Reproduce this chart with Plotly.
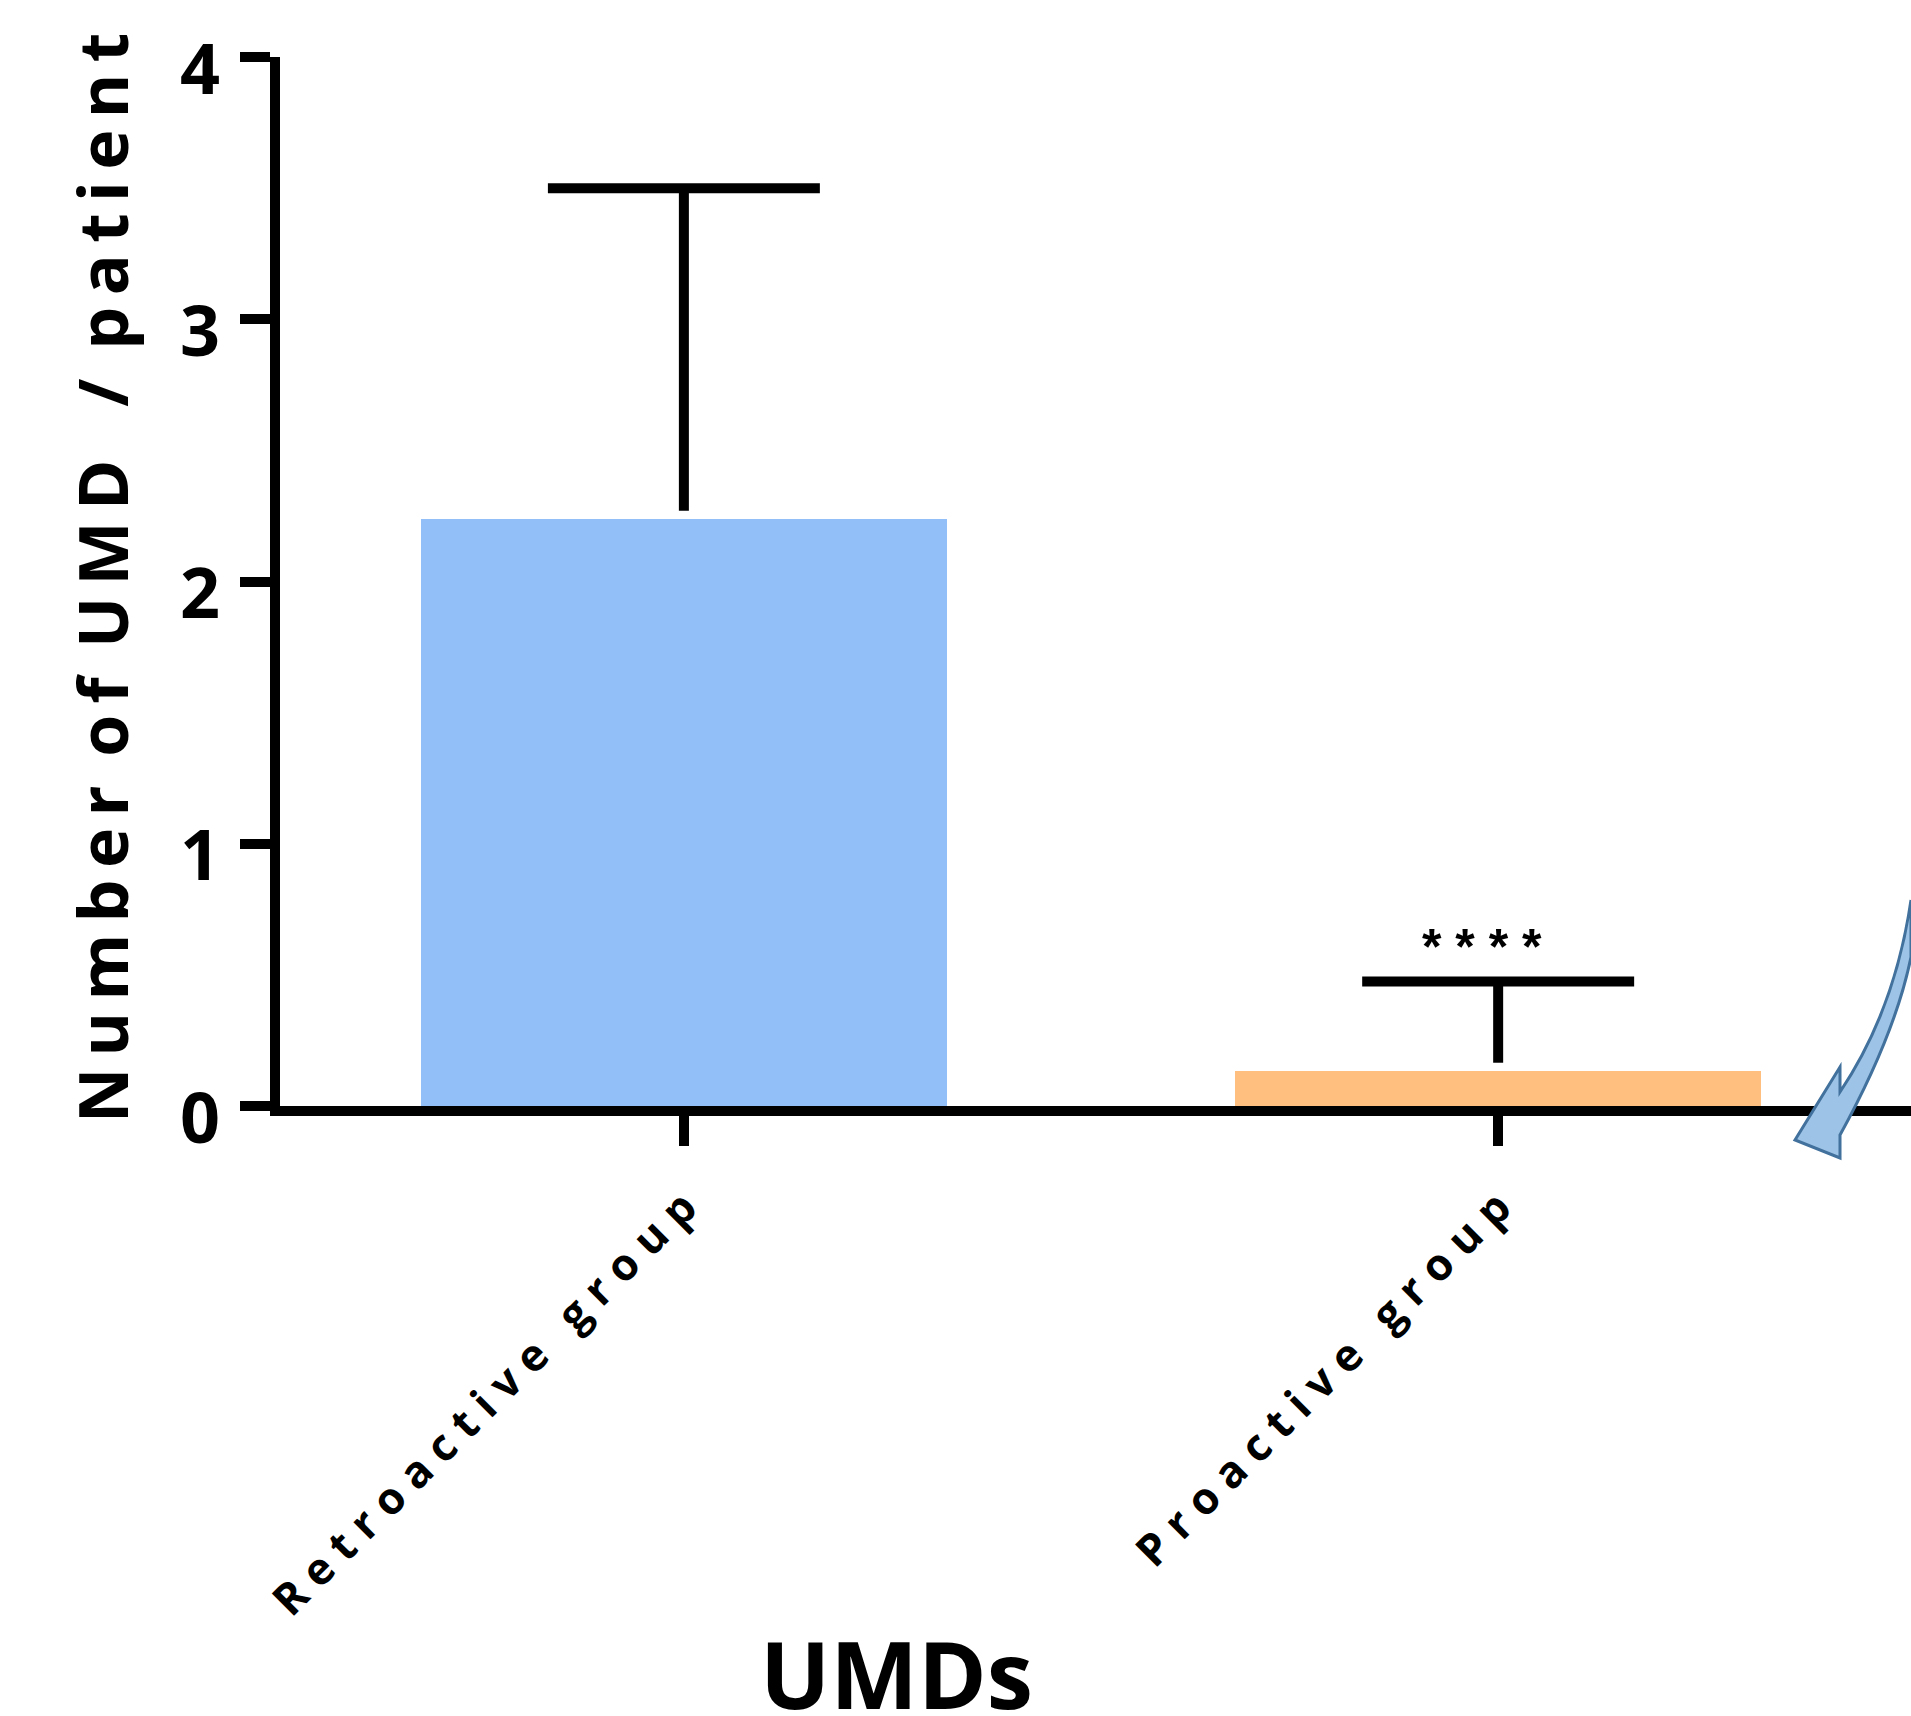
import plotly.graph_objects as go

# ---- data ----
categories = ["Retroactive group", "Proactive group"]
means = [2.24, 0.135]
sd_upper = [1.26, 0.34]
bar_colors = ["#93BFF8", "#FFC07F"]
y_ticks = [0, 1, 2, 3, 4]
significance = ["", "****"]

W, H = 1911, 1716
ML, MR, MT = 280, 0, 57
PLOT_BOTTOM = 1106
MB = H - PLOT_BOTTOM
PW, PH = W - ML - MR, PLOT_BOTTOM - MT


def px(x):  # window pixel -> paper
    return (x - ML) / PW


def py(y):
    return (PLOT_BOTTOM - y) / PH


def spaced(s, sep=" ", wsep="   "):
    return wsep.join(sep.join(list(w)) for w in s.split(" "))


xpos = list(range(len(categories)))
fig = go.Figure()
fig.add_trace(go.Bar(
    x=xpos, y=means, width=0.646,
    marker=dict(color=bar_colors, line=dict(width=0)),
    showlegend=False, hoverinfo="skip",
))

# error bars (upper only) drawn through data scales
cap_half = 0.167
gap = 0.03
ex, ey = [], []
for xi, m, e in zip(xpos, means, sd_upper):
    ex += [xi, xi, None, xi - cap_half, xi + cap_half, None]
    ey += [m + gap, m + e, None, m + e, m + e, None]
fig.add_trace(go.Scatter(x=ex, y=ey, mode="lines",
                         line=dict(color="black", width=10),
                         showlegend=False, hoverinfo="skip"))

# significance stars
for xi, m, e, s in zip(xpos, means, sd_upper, significance):
    if s:
        fig.add_annotation(x=xi, y=m + e, xref="x", yref="y",
                           text=" ".join(list(s)), showarrow=False,
                           yanchor="middle", yshift=34, xshift=-16,
                           font=dict(family="Liberation Sans", size=50, color="black",
                                     weight="bold"))

fig.update_xaxes(
    range=[-0.496, 1.507],
    tickvals=xpos,
    ticktext=[spaced(c, " ", "   ") for c in categories],
    tickangle=-45,
    ticks="outside", ticklen=30, tickwidth=10, tickcolor="black",
    showline=True, linewidth=10, linecolor="black",
    showgrid=False, zeroline=False,
    ticklabelstandoff=18,
    tickfont=dict(family="Open Sans", size=44, color="black", weight="bold"),
)
fig.update_yaxes(
    range=[0, 4],
    tickvals=y_ticks,
    ticks="outside", ticklen=30, tickwidth=10, tickcolor="black",
    showline=True, linewidth=10, linecolor="black",
    showgrid=False, zeroline=False,
    ticklabelstandoff=6,
    ticklabelshift=12,
    ticklabeloverflow="allow",
    tickfont=dict(family="Open Sans", size=70, color="black", weight="bold"),
)

# y-axis title
fig.add_annotation(
    x=px(101), y=py(578), xref="paper", yref="paper",
    text=(spaced("Number of UMD", "\u2009", " \u2009") + "   /\u2009 "
          + spaced("patient", "\u2006")),
    textangle=-90, showarrow=False, xanchor="center", yanchor="middle",
    font=dict(family="Open Sans", size=68, color="black", weight="bold"),
)
# x-axis title
fig.add_annotation(
    x=px(896), y=py(1673), xref="paper", yref="paper",
    text="UMDs", showarrow=False, xanchor="center", yanchor="middle",
    font=dict(family="Open Sans", size=93, color="black", weight="bold"),
)

# curved arrow decoration (window pixels -> paper)
pts = {
    "a": (1911, 900), "c1": (1895, 1010), "b": (1840, 1092),
    "n": (1840, 1067), "t": (1795, 1140), "bb": (1840, 1158),
    "i": (1840, 1135), "c2": (1895, 1035), "e": (1911, 957),
}
P = {k: (px(v[0]), py(v[1])) for k, v in pts.items()}
path = (f"M {P['a'][0]},{P['a'][1]} Q {P['c1'][0]},{P['c1'][1]} {P['b'][0]},{P['b'][1]} "
        f"L {P['n'][0]},{P['n'][1]} L {P['t'][0]},{P['t'][1]} L {P['bb'][0]},{P['bb'][1]} "
        f"L {P['i'][0]},{P['i'][1]} Q {P['c2'][0]},{P['c2'][1]} {P['e'][0]},{P['e'][1]} Z")
fig.add_shape(type="path", path=path, xref="paper", yref="paper",
              fillcolor="#9DC3E6", line=dict(color="#41719C", width=3), layer="above")

fig.update_layout(
    width=W, height=H,
    margin=dict(l=ML, r=MR, t=MT, b=MB),
    plot_bgcolor="white", paper_bgcolor="white",
    bargap=0,
)

fig.write_html(
    "out.html",
    config={"displayModeBar": False},
    post_script="document.body.style.margin='0';document.body.style.overflow='hidden';",
)
